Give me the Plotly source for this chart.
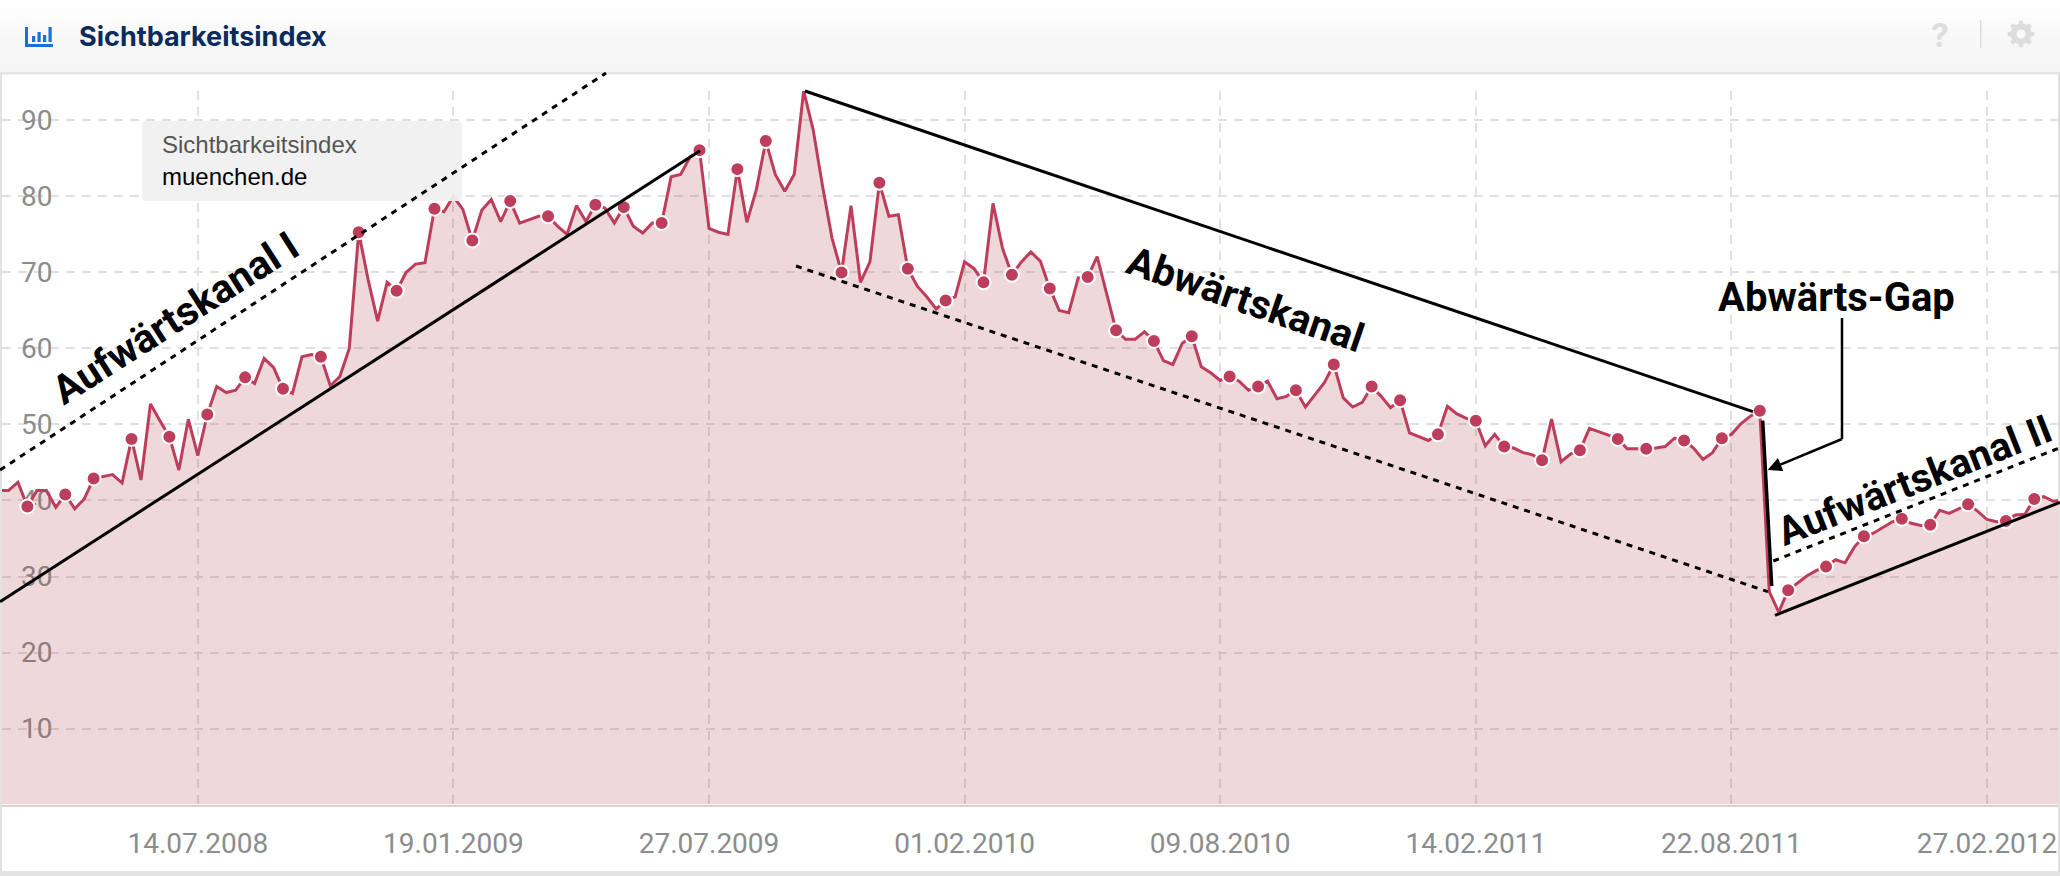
import math
import pandas as pd
import plotly.graph_objects as go

W, H = 2060, 876
SERIES_START = "2008-02-18"
VALUES = [
    41.3, 41.3, 42.4, 39.2, 41.3, 41.3, 39.1, 40.8, 38.9, 40.2, 42.9, 43.2, 43.4, 42.3, 48.1, 42.7, 52.7, 50.5, 48.4, 44.0,
    50.7, 45.9, 51.3, 55.0, 54.2, 54.5, 56.2, 55.4, 58.7, 57.5, 54.7, 54.1, 58.9, 59.2, 58.9, 55.1, 56.3, 60.0, 75.3, 69.0,
    63.6, 68.7, 67.6, 70.0, 71.1, 71.3, 78.4, 78.0, 80.0, 78.3, 74.2, 78.2, 79.6, 76.7, 79.4, 76.5, 76.9, 77.4, 77.4, 76.1,
    75.0, 78.8, 76.7, 78.9, 78.5, 76.5, 78.6, 76.1, 75.2, 76.5, 76.5, 82.6, 82.9, 85.2, 86.1, 75.8, 75.3, 75.0, 83.6, 76.6,
    80.9, 87.3, 82.9, 80.7, 82.9, 93.9, 88.8, 81.3, 74.5, 70.0, 78.8, 68.7, 71.4, 81.8, 77.4, 77.6, 70.5, 68.2, 66.8, 65.2,
    66.3, 66.8, 71.4, 70.5, 68.7, 79.1, 73.2, 69.7, 71.4, 72.7, 71.5, 67.9, 65.0, 64.7, 69.3, 69.4, 72.1, 67.1, 62.4, 61.2,
    61.2, 62.2, 61.0, 58.4, 57.9, 60.7, 61.6, 57.6, 56.8, 55.8, 56.3, 55.7, 54.5, 55.0, 55.7, 53.4, 53.7, 54.5, 52.3, 53.9,
    55.5, 57.9, 53.5, 52.3, 52.9, 55.0, 53.7, 52.2, 53.2, 48.9, 48.4, 47.9, 48.7, 52.4, 51.4, 50.8, 50.5, 47.2, 48.7, 47.1,
    46.9, 46.3, 46.0, 45.3, 50.7, 45.1, 46.1, 46.6, 49.5, 49.1, 48.6, 48.1, 46.8, 46.8, 46.8, 46.9, 47.1, 48.2, 47.9, 46.9,
    45.4, 46.3, 48.2, 48.7, 50.1, 51.1, 51.8, 28.0, 25.3, 28.2, 29.1, 30.1, 30.8, 31.3, 32.2, 31.8, 33.9, 35.3, 35.7, 36.4,
    37.2, 37.6, 37.0, 36.7, 36.8, 38.7, 38.3, 38.9, 39.5, 38.6, 37.5, 37.2, 37.3, 38.1, 38.2, 40.2, 40.5, 39.9, 40.0,
]
MARKER_INDEX = [
    3, 7, 10, 14, 18, 22, 26, 30, 34, 38, 42, 46, 50, 54, 58, 63, 66, 70, 74, 78, 81, 85, 89, 93, 96, 100, 104, 107, 111,
    115, 118, 122, 126, 130, 133, 137, 141, 145, 148, 152, 156, 159, 163, 167, 171, 174, 178, 182, 186, 189, 193, 197,
    201, 204, 208, 212, 215,
]
Y_TICKS = [10, 20, 30, 40, 50, 60, 70, 80, 90]
X_TICK_DATES = ["2008-07-14", "2009-01-19", "2009-07-27", "2010-02-01", "2010-08-09", "2011-02-14", "2011-08-22", "2012-02-27"]
X_TICK_LABELS = ["14.07.2008", "19.01.2009", "27.07.2009", "01.02.2010", "09.08.2010", "14.02.2011", "22.08.2011", "27.02.2012"]

LINE = "#BD3E5C"
FILL = "rgba(170,60,70,0.2)"
GRID = "#e0e0e0"
TICK = "#8c8c8c"
BLACK = "#000000"

dates = pd.date_range(SERIES_START, periods=len(VALUES), freq="7D")


def px(x):
    return x / W


def py(y):
    return 1 - y / H


def rect(x0, y0, x1, y1, color, layer="above", **kw):
    return dict(type="rect", xref="paper", yref="paper", x0=px(x0), x1=px(x1), y0=py(y0), y1=py(y1),
                fillcolor=color, line=dict(width=0), layer=layer, **kw)


def seg(x0, y0, x1, y1, width=3, dash=None, color=BLACK):
    line = dict(color=color, width=width)
    if dash:
        line["dash"] = dash
    return dict(type="line", xref="paper", yref="paper", x0=px(x0), x1=px(x1), y0=py(y0), y1=py(y1),
                line=line, layer="above")


def poly(points, color, width=0):
    d = "M" + " L".join(f"{px(a):.6f},{py(b):.6f}" for a, b in points) + " Z"
    return dict(type="path", xref="paper", yref="paper", path=d, fillcolor=color, line=dict(width=width), layer="above")


def label(text, x, y, size, color=BLACK, family="Roboto", angle=0, anchor="center"):
    return dict(text=text, xref="paper", yref="paper", x=px(x), y=py(y), xanchor=anchor, yanchor="middle",
                showarrow=False, textangle=angle, font=dict(size=size, color=color, family=family))


def gear(cx, cy, outer, inner, teeth, color):
    pts = []
    for t in range(teeth):
        a = 2 * math.pi * t / teeth
        step = 2 * math.pi / teeth
        for frac, r in ((-0.32, inner), (-0.18, outer), (0.18, outer), (0.32, inner)):
            pts.append((cx + r * math.cos(a + frac * step), cy + r * math.sin(a + frac * step)))
    return poly(pts, color)


def disc(cx, cy, r, color):
    return dict(type="circle", xref="paper", yref="paper", x0=px(cx - r), x1=px(cx + r), y0=py(cy + r), y1=py(cy - r),
                fillcolor=color, line=dict(width=0), layer="above")


fig = go.Figure()
fig.add_trace(go.Scatter(x=dates, y=VALUES, mode="lines", line=dict(color=LINE, width=3, shape="linear"),
                         fill="tozeroy", fillcolor=FILL, cliponaxis=False, hoverinfo="skip"))
fig.add_trace(go.Scatter(x=[dates[i] for i in MARKER_INDEX], y=[VALUES[i] for i in MARKER_INDEX], mode="markers",
                         marker=dict(color=LINE, size=14, line=dict(color="#ffffff", width=2)),
                         cliponaxis=False, hoverinfo="skip"))

shapes = []
# card header with a soft vertical gradient
bands = ["#ffffff", "#fdfdfd", "#fbfbfb", "#f9f9f9", "#f8f8f8", "#f7f7f7", "#f6f6f6", "#f5f5f5"]
for k, c in enumerate(bands):
    shapes.append(rect(0, k * 9, W, (k + 1) * 9 + 1, c))
shapes.append(rect(0, 72, W, 74.5, "#e6e6e6"))
shapes.append(rect(0, 74, 2, 874, "#e2e2e2"))
shapes.append(rect(W - 2, 74, W, 874, "#e2e2e2"))
shapes.append(rect(0, 871, W, H, "#e3e3e3"))
# header icons
shapes.append(rect(25, 44, 53, 47, "#1a6fd8"))
shapes.append(rect(25, 27, 28, 47, "#1a6fd8"))
for bx, top in zip((32, 37.5, 43, 48.5), (36, 32, 35, 27)):
    shapes.append(rect(bx, top, bx + 3.2, 42, "#1a6fd8"))
shapes.append(rect(1980, 20, 1981.5, 48, "#dddddd"))
shapes.append(gear(2021, 34, 13.5, 10.5, 8, "#dddddd"))
shapes.append(disc(2021, 34, 4.5, "#f9f9f9"))
# legend box
shapes.append(dict(type="path", xref="paper", yref="paper", layer="above", fillcolor="rgba(240,240,240,0.93)",
                   line=dict(width=0),
                   path=(f"M{px(146)},{py(121)} L{px(458)},{py(121)} Q{px(462)},{py(121)} {px(462)},{py(125)} "
                         f"L{px(462)},{py(197)} Q{px(462)},{py(201)} {px(458)},{py(201)} L{px(146)},{py(201)} "
                         f"Q{px(142)},{py(201)} {px(142)},{py(197)} L{px(142)},{py(125)} Q{px(142)},{py(121)} {px(146)},{py(121)} Z")))
# drawn-over trend channels
dots = "6px,6px"
shapes += [
    seg(0, 601.7, 700, 150.7),
    seg(0, 470, 606, 73, width=3, dash=dots),
    seg(805, 91, 1753, 411.7),
    seg(796, 266, 1768, 591.7, width=3, dash=dots),
    seg(1775, 615.3, 2060, 502.3),
    seg(1773.3, 561, 2060, 447.7, width=3, dash=dots),
    seg(1762.7, 420.7, 1771.7, 586, width=3.5),
    seg(1842, 318, 1842, 439, width=2.5),
    seg(1842, 439, 1778, 465.5, width=2.5),
    poly([(1767.7, 470), (1783.3, 471), (1777.9, 458.1)], BLACK),
]

annotations = [
    label("<b>Sichtbarkeitsindex</b>", 77, 37, 27, "#0b2a5e", "Inter", anchor="left"),
    label("<b>?</b>", 1940, 35, 32, "#dddddd", "Inter"),
    label("Sichtbarkeitsindex", 160, 144, 24, "#555555", "Liberation Sans", anchor="left"),
    label("muenchen.de", 160, 176, 24, "#000000", "Liberation Sans", anchor="left"),
    label("<b>Aufwärtskanal I</b>", 175, 318, 40, angle=-32.6),
    label("<b>Abwärtskanal</b>", 1245, 299, 40, angle=19),
    label("<b>Abwärts-Gap</b>", 1836, 298, 40),
    label("<b>Aufwärtskanal II</b>", 1914, 480, 39.5, angle=-21.5),
]

t0 = pd.Timestamp("2008-07-14")
day_px = 255.6 / 189
x_left = t0 + pd.Timedelta(days=(2 - 197.8) / day_px)
x_right = t0 + pd.Timedelta(days=(2058 - 197.8) / day_px)

fig.update_layout(
    width=W, height=H, showlegend=False, paper_bgcolor="#ffffff", plot_bgcolor="#ffffff",
    margin=dict(l=0, r=0, t=0, b=0, pad=0),
    shapes=shapes, annotations=annotations,
    xaxis=dict(type="date", domain=[px(2), px(2058)], range=[x_left, x_right], tickmode="array",
               tickvals=X_TICK_DATES, ticktext=X_TICK_LABELS, showgrid=True, gridcolor=GRID, griddash="9px,7px",
               gridwidth=2, zeroline=False, showline=True, linecolor="#e2cdd0", linewidth=1.5, ticks="",
               ticklabelstandoff=13, tickfont=dict(family="Roboto", size=28, color=TICK), automargin=False),
    yaxis=dict(domain=[py(804.5), py(91)], range=[0, 93.88], tickmode="array", tickvals=Y_TICKS,
               ticklabelposition="inside", showgrid=True, gridcolor=GRID, griddash="9px,7px", gridwidth=2,
               zeroline=False, showline=False, ticks="", layer="below traces", ticklabelstandoff=16,
               tickfont=dict(family="Roboto", size=28, color=TICK), automargin=False),
)

fig.write_html("out.html", config=dict(displayModeBar=False),
               post_script="document.body.style.margin='0';document.body.style.overflow='hidden';")
